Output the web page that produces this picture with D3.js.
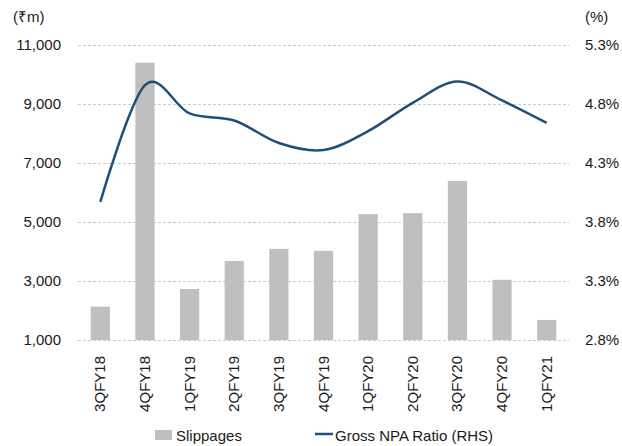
<!DOCTYPE html>
<html>
<head>
<meta charset="utf-8">
<script src="https://cdn.jsdelivr.net/npm/d3@7"></script>
<style>
  body { margin: 0; background: #fff; }
  text { font-family: "Liberation Sans", Arial, sans-serif; fill: #1a1a1a; }
</style>
</head>
<body>
<script>

// quarters on the x axis
var quarters = ["3QFY18", "4QFY18", "1QFY19", "2QFY19", "3QFY19", "4QFY19",
                "1QFY20", "2QFY20", "3QFY20", "4QFY20", "1QFY21"];

// slippages, Rs m (left axis)
var slippages = [2130, 10400, 2730, 3680, 4090, 4020, 5270, 5300, 6390, 3040, 1680];

// gross NPA ratio, % (right axis)
var gnpaRatio = [3.97, 4.96, 4.72, 4.66, 4.47, 4.41, 4.57, 4.81, 4.99, 4.83, 4.64];

var leftTicks = [1000, 3000, 5000, 7000, 9000, 11000];
var rightTicks = [2.8, 3.3, 3.8, 4.3, 4.8, 5.3];

var width = 622;
var height = 446;

var plotLeft = 78, plotRight = 569, plotTop = 45, plotBottom = 340;

var svg = d3.select("body").append("svg")
    .attr("width", width)
    .attr("height", height);

var x = d3.scaleBand()
    .domain(quarters)
    .range([plotLeft, plotRight])
    .paddingInner(0.57)
    .paddingOuter(0.285);

var yLeft = d3.scaleLinear()
    .domain([1000, 11000])
    .range([plotBottom, plotTop]);

var yRight = d3.scaleLinear()
    .domain([2.8, 5.3])
    .range([plotBottom, plotTop]);

// dashed gridlines
svg.append("g")
    .selectAll("line")
    .data(leftTicks)
    .enter()
    .append("line")
    .attr("x1", plotLeft)
    .attr("x2", plotRight)
    .attr("y1", function(d) { return yLeft(d) + 0.5; })
    .attr("y2", function(d) { return yLeft(d) + 0.5; })
    .style("stroke", "#c9c9c9")
    .style("stroke-width", 1)
    .style("stroke-dasharray", "3,2");

// left axis labels
svg.append("g")
    .selectAll("text")
    .data(leftTicks)
    .enter()
    .append("text")
    .attr("x", 61)
    .attr("y", function(d) { return yLeft(d) + 5; })
    .attr("text-anchor", "end")
    .style("font-size", "15px")
    .text(function(d) { return d3.format(",")(d); });

// right axis labels
svg.append("g")
    .selectAll("text")
    .data(rightTicks)
    .enter()
    .append("text")
    .attr("x", 585)
    .attr("y", function(d) { return yRight(d) + 5; })
    .style("font-size", "15px")
    .text(function(d) { return d.toFixed(1) + "%"; });

// axis unit labels
svg.append("text")
    .attr("x", 13)
    .attr("y", 22)
    .style("font-size", "15px")
    .text("(₹m)");

svg.append("text")
    .attr("x", 585)
    .attr("y", 22)
    .style("font-size", "15px")
    .text("(%)");

// bars
svg.append("g")
    .selectAll("rect")
    .data(slippages)
    .enter()
    .append("rect")
    .attr("x", function(d, i) { return x(quarters[i]); })
    .attr("width", x.bandwidth())
    .attr("y", function(d) { return yLeft(d); })
    .attr("height", function(d) { return yLeft(1000) - yLeft(d); })
    .style("fill", "#bfbfbf");

// smoothed line on the right axis
var line = d3.line()
    .x(function(d, i) { return x(quarters[i]) + x.bandwidth() / 2; })
    .y(function(d) { return yRight(d); })
    .curve(d3.curveCatmullRom.alpha(0));

svg.append("path")
    .datum(gnpaRatio)
    .attr("d", line)
    .style("fill", "none")
    .style("stroke", "#1f4e79")
    .style("stroke-width", 2.5);

// x labels, rotated
svg.append("g")
    .selectAll("text")
    .data(quarters)
    .enter()
    .append("text")
    .attr("transform", function(d) {
        return "translate(" + (x(d) + x.bandwidth() / 2 + 5) + ",356) rotate(-90)";
    })
    .attr("text-anchor", "end")
    .style("font-size", "15px")
    .text(function(d) { return d; });

// legend
var legend = svg.append("g");

legend.append("rect")
    .attr("x", 155)
    .attr("y", 430)
    .attr("width", 17)
    .attr("height", 10)
    .style("fill", "#bfbfbf");

legend.append("text")
    .attr("x", 176)
    .attr("y", 441)
    .style("font-size", "15px")
    .text("Slippages");

legend.append("line")
    .attr("x1", 315)
    .attr("x2", 333)
    .attr("y1", 434)
    .attr("y2", 434)
    .style("stroke", "#1f4e79")
    .style("stroke-width", 2.5);

legend.append("text")
    .attr("x", 335)
    .attr("y", 441)
    .style("font-size", "15px")
    .text("Gross NPA Ratio (RHS)");

</script>
</body>
</html>
